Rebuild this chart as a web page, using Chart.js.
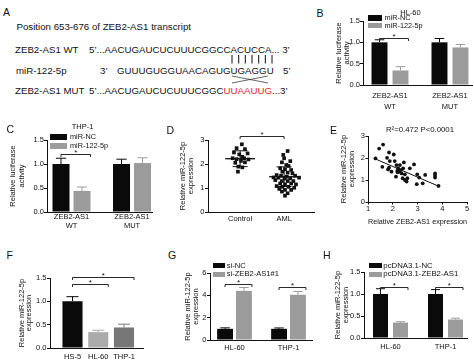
<!DOCTYPE html>
<html><head><meta charset="utf-8"><title>ZEB2-AS1 / miR-122-5p</title>
<script src="https://cdn.jsdelivr.net/npm/chart.js@4.4.1/dist/chart.umd.min.js"></script>
<style>
html,body{margin:0;padding:0;background:#fff;}
#root{position:relative;width:474px;height:362px;overflow:hidden;font-family:'Liberation Sans',Arial,Helvetica,sans-serif;color:#111;}
.t{position:absolute;white-space:nowrap;line-height:1;transform:translateY(-50%);}
.c{transform:translate(-50%,-50%);}
.sw{position:absolute;}
canvas{position:absolute;}
svg{position:absolute;left:0;top:0;}
</style></head><body><div id="root"></div>
<script>
// ---------------- Panel A (sequence alignment) ----------------
const aTitle = 'Position 653-676 of ZEB2-AS1 transcript';
const aRowLabels = ['ZEB2-AS1 WT', 'miR-122-5p', 'ZEB2-AS1 MUT'];
const aWT = '5\u2019...AACUGAUCUCUUUCGGCCACUCCA... 3\u2019';
const aMiR5 = '3\u2019';
const aMiR = 'GUUUGUGGUAACAGUGUGAGGU';
const aMiR3 = '5\u2019';
const aMutHead = '5\u2019...AACUGAUCUCUUUCGGC';
const aMutSite = 'UUAAUUG';
const aMutTail = '...3\u2019';

// ---------------- Panel B (HL-60 luciferase) ----------------
const bTitle = 'HL-60';
const bCategories = [['ZEB2-AS1', 'WT'], ['ZEB2-AS1', 'MUT']];
const bSeries = ['miR-NC', 'miR-122-5p'];
const bNC = [1.00, 1.00];
const bNCErr = [0.06, 0.09];
const bMiR = [0.34, 0.88];
const bMiRErr = [0.09, 0.07];
const bSig = [[0, 1.10]];            // [category index, bracket height]

// ---------------- Panel C (THP-1 luciferase) ----------------
const cTitle = 'THP-1';
const cCategories = [['ZEB2-AS1', 'WT'], ['ZEB2-AS1', 'MUT']];
const cSeries = ['miR-NC', 'miR-122-5p'];
const cNC = [1.00, 1.00];
const cNCErr = [0.12, 0.10];
const cMiR = [0.44, 1.02];
const cMiRErr = [0.08, 0.11];
const cSig = [[0, 1.20]];

// ---------------- Panel D (dot plot) ----------------
const dGroups = ['Control', 'AML'];
const dControlX = [1.04, 0.92, 1.11, 0.86, 0.98, 1.17, 1.05, 0.83, 0.92, 1.09, 1.19, 1.02, 0.89, 1.11, 0.96, 1.05, 0.95];
const dControlY = [2.82, 2.66, 2.62, 2.48, 2.40, 2.44, 2.30, 2.24, 2.20, 2.24, 2.19, 2.13, 2.05, 2.07, 1.89, 1.86, 1.68];
const dAMLX = [2.08, 1.98, 2.00, 2.14, 1.95, 2.05, 2.10, 1.91, 2.02, 2.16, 1.96, 2.08, 2.19, 1.83, 1.93, 2.06, 2.25, 1.76, 1.87, 2.01,
               2.14, 2.34, 1.80, 1.95, 2.08, 2.21, 1.91, 2.02, 2.16, 2.27, 1.83, 1.96, 2.10, 2.23, 1.89, 2.02, 2.16, 1.95, 2.08, 2.02];
const dAMLY = [2.54, 2.38, 2.24, 2.12, 2.07, 1.96, 1.92, 1.82, 1.78, 1.75, 1.68, 1.64, 1.61, 1.54, 1.51, 1.47, 1.51, 1.44, 1.43, 1.40,
               1.40, 1.43, 1.33, 1.29, 1.29, 1.29, 1.19, 1.15, 1.19, 1.15, 1.08, 1.05, 1.05, 1.01, 0.96, 0.92, 0.92, 0.85, 0.78, 0.68];
const dMean = [2.22, 1.47];
const dSD = [0.33, 0.41];
const dSig = [[1, 2, 3.18]];

// ---------------- Panel E (correlation) ----------------
const eX = [1.30, 1.45, 1.61, 1.58, 1.77, 1.85, 1.88, 1.85, 1.81, 2.04, 2.08, 1.95, 2.13, 2.22, 2.18, 2.26, 2.32, 2.36, 2.29, 2.42,
            2.45, 2.49, 2.40, 2.49, 2.59, 2.56, 2.69, 2.86, 2.99, 3.07, 2.97, 3.21, 3.31, 3.71, 3.71, 3.71, 3.85, 2.15, 2.20];
const eY = [1.98, 2.43, 2.61, 1.60, 2.01, 2.25, 1.86, 1.56, 1.48, 2.16, 1.86, 1.38, 1.15, 1.53, 1.41, 1.38, 1.45, 1.30, 1.68, 1.53,
            1.80, 1.26, 1.08, 1.00, 1.08, 0.93, 1.53, 1.71, 1.26, 1.11, 0.81, 0.85, 1.23, 1.30, 1.20, 1.11, 0.73, 1.68, 1.35];
const eFitX = [1.27, 3.85];
const eFitY = [1.97, 0.72];
const eStats = 'R\u00b2=0.472 P<0.0001';

// ---------------- Panel F ----------------
const fCategories = ['HS-5', 'HL-60', 'THP-1'];
const fValues = [1.00, 0.34, 0.44];
const fErr = [0.10, 0.04, 0.07];
const fSig = [[0, 1, 1.38], [0, 2, 1.53]];

// ---------------- Panel G ----------------
const gCategories = ['HL-60', 'THP-1'];
const gSeries = ['si-NC', 'si-ZEB2-AS1#1'];
const gNC = [1.00, 1.00];
const gNCErr = [0.09, 0.08];
const gSi = [4.40, 4.05];
const gSiErr = [0.30, 0.30];
const gSig = [[0, 5.00], [1, 4.75]];

// ---------------- Panel H ----------------
const hCategories = ['HL-60', 'THP-1'];
const hSeries = ['pcDNA3.1-NC', 'pcDNA3.1-ZEB2-AS1'];
const hNC = [1.00, 1.00];
const hNCErr = [0.12, 0.10];
const hOE = [0.35, 0.42];
const hOEErr = [0.02, 0.03];
const hSig = [[0, 1.15], [1, 1.15]];

// ================= rendering =================
const F = "'Liberation Sans', Arial, Helvetica, sans-serif";
const INK = '#111111';
const BLACK = '#0a0a0a';
const GRAY = '#9b9b9b';
const LIGHT = '#ababab';
const DARK = '#777777';
const root = document.getElementById('root');

Chart.defaults.font.family = F;
Chart.defaults.color = INK;
Chart.defaults.animation = false;

function addText(str, x, y, size, opts) {
  opts = opts || {};
  const d = document.createElement('div');
  d.className = 't' + (opts.center ? ' c' : '');
  d.style.left = x + 'px';
  d.style.top = y + 'px';
  d.style.fontSize = size + 'px';
  if (opts.color) d.style.color = opts.color;
  if (opts.parts) {
    opts.parts.forEach(p => { const s = document.createElement('span'); s.textContent = p[0]; if (p[1]) s.style.color = p[1]; d.appendChild(s); });
  } else d.textContent = str;
  root.appendChild(d);
  return d;
}
function addSwatch(x, y, w, h, color) {
  const s = document.createElement('div');
  s.className = 'sw';
  Object.assign(s.style, {left: x + 'px', top: y + 'px', width: w + 'px', height: h + 'px', background: color});
  root.appendChild(s);
}

// ---- Panel A ----
addText('A', 3, 11.7, 10.5);
addText(aTitle, 16.5, 27.3, 9.7);
addText(aRowLabels[0], 15, 49.5, 9.7);
addText(aWT, 89, 49.5, 9.7);
addText(aRowLabels[1], 16, 70.5, 9.7);
addText(aMiR5, 100, 70.5, 9.7);
addText(aMiR, 117, 70.5, 9.7);
addText(aMiR3, 283, 70.5, 9.7);
addText(aRowLabels[2], 15, 90.7, 9.7);
addText('', 89, 90.7, 9.7, {parts: [[aMutHead], [aMutSite, '#e2262c'], [aMutTail]]});
(function () {
  const ns = 'http://www.w3.org/2000/svg';
  const svg = document.createElementNS(ns, 'svg');
  svg.setAttribute('width', 474); svg.setAttribute('height', 362);
  const seg = (x1, y1, x2, y2, w) => {
    const l = document.createElementNS(ns, 'line');
    l.setAttribute('x1', x1); l.setAttribute('y1', y1); l.setAttribute('x2', x2); l.setAttribute('y2', y2);
    l.setAttribute('stroke', '#222'); l.setAttribute('stroke-width', w);
    svg.appendChild(l);
  };
  for (let k = 0; k < 7; k++) { const x = 232 + k * 6.67; seg(x, 55, x, 63.5, 1.1); }
  seg(232, 76, 268, 83, 0.7);
  seg(232, 83, 268, 76, 0.7);
  root.appendChild(svg);
})();

// ---- plugins ----
const errorBars = {
  id: 'errorBars',
  afterDatasetsDraw(chart) {
    const ctx = chart.ctx, ys = chart.scales.y;
    chart.data.datasets.forEach((ds, di) => {
      if (!ds.errors) return;
      const meta = chart.getDatasetMeta(di);
      meta.data.forEach((el, i) => {
        const v = ds.data[i].y, e = ds.errors[i];
        const top = ys.getPixelForValue(v + e);
        const col = Array.isArray(ds.backgroundColor) ? ds.backgroundColor[i] : ds.backgroundColor;
        const cap = el.width * 0.3;
        ctx.save();
        ctx.strokeStyle = col; ctx.lineWidth = 1;
        ctx.beginPath();
        ctx.moveTo(el.x, el.y); ctx.lineTo(el.x, top);
        ctx.moveTo(el.x - cap, top); ctx.lineTo(el.x + cap, top);
        ctx.stroke();
        ctx.restore();
      });
    });
  }
};
const sigPlugin = {
  id: 'sig',
  afterDraw(chart, args, opts) {
    const items = (opts && opts.items) || [];
    const ctx = chart.ctx, xs = chart.scales.x, ys = chart.scales.y;
    items.forEach(b => {
      let x1, x2;
      if (b.bars) {
        const e1 = chart.getDatasetMeta(b.bars[0][0]).data[b.bars[0][1]];
        const e2 = chart.getDatasetMeta(b.bars[1][0]).data[b.bars[1][1]];
        x1 = e1.x; x2 = e2.x + e2.width / 2;
      } else {
        x1 = xs.getPixelForValue(b.x1); x2 = xs.getPixelForValue(b.x2);
      }
      const y = Math.round(ys.getPixelForValue(b.y)) + 0.5;
      ctx.save();
      ctx.strokeStyle = INK; ctx.lineWidth = 0.9;
      ctx.beginPath();
      ctx.moveTo(x1, y + 2.5); ctx.lineTo(x1, y); ctx.lineTo(x2, y); ctx.lineTo(x2, y + 2.5);
      ctx.stroke();
      ctx.fillStyle = INK; ctx.font = '8px ' + F; ctx.textAlign = 'center'; ctx.textBaseline = 'alphabetic';
      ctx.fillText('*', (x1 + x2) / 2, y + 0.5);
      ctx.restore();
    });
  }
};
const meanSd = {
  id: 'meanSd',
  afterDatasetsDraw(chart, args, opts) {
    const items = (opts && opts.items) || [];
    const ctx = chart.ctx, xs = chart.scales.x, ys = chart.scales.y;
    items.forEach(m => {
      const cx = xs.getPixelForValue(m.x);
      const ym = ys.getPixelForValue(m.mean), yt = ys.getPixelForValue(m.mean + m.sd), yb = ys.getPixelForValue(m.mean - m.sd);
      const hw = xs.getPixelForValue(m.x + opts.meanHalf) - cx;
      const cw = xs.getPixelForValue(m.x + opts.capHalf) - cx;
      ctx.save(); ctx.strokeStyle = INK;
      ctx.lineWidth = 1.3;
      ctx.beginPath(); ctx.moveTo(cx - hw, ym); ctx.lineTo(cx + hw, ym); ctx.stroke();
      ctx.lineWidth = 1;
      ctx.beginPath();
      ctx.moveTo(cx, yt); ctx.lineTo(cx, yb);
      ctx.moveTo(cx - cw, yt); ctx.lineTo(cx + cw, yt);
      ctx.moveTo(cx - cw, yb); ctx.lineTo(cx + cw, yb);
      ctx.stroke(); ctx.restore();
    });
  }
};

// ---- chart helpers ----
function makeCanvas(box, pad) {
  const c = document.createElement('canvas');
  const left = box.l - pad.l, top = box.t - pad.t;
  const w = box.r - box.l + pad.l + pad.r, h = box.b - box.t + pad.t + pad.b;
  c.width = w; c.height = h;
  Object.assign(c.style, {left: left + 'px', top: top + 'px', width: w + 'px', height: h + 'px'});
  root.appendChild(c);
  return c;
}
function yAxisCfg(o, box, pad) {
  return {
    type: 'linear', min: o.min, max: o.max,
    ticks: {stepSize: o.step, callback: v => Number(v).toFixed(o.dec), font: {size: 7.5, family: F}, color: INK, padding: o.tickPad == null ? 0.5 : o.tickPad},
    grid: {display: true, drawOnChartArea: false, drawTicks: true, tickLength: o.tickLen || 3, color: INK, lineWidth: 1},
    border: {display: true, color: INK, width: 1},
    title: {display: true, text: o.title, color: INK,
      font: {size: 7.5, family: F, lineHeight: o.titleLH + 'px'},
      padding: {top: o.titleStart - (box.l - pad.l), bottom: 0}},
    afterFit(s) { s.width = pad.l; s.paddingTop = 0; s.paddingBottom = 0; }
  };
}
function xCatAxis(min, max, labels, pad, lh, tpad) {
  return {
    type: 'linear', min, max, offset: false,
    afterBuildTicks(s) { s.ticks = labels.map((_, i) => ({value: i + 1})); },
    ticks: {autoSkip: false, maxRotation: 0, minRotation: 0, callback: v => labels[Math.round(v) - 1],
      font: {size: 7.5, family: F, lineHeight: lh + 'px'}, color: INK, padding: tpad},
    grid: {display: false, drawTicks: false},
    border: {display: true, color: INK, width: 1},
    afterFit(s) { s.height = pad.b; s.paddingLeft = 0; s.paddingRight = 0; }
  };
}
function baseOptions(pad, scales, pluginOpts) {
  return {
    responsive: false, animation: false, devicePixelRatio: 1,
    layout: {padding: {left: 0, top: pad.t, right: pad.r, bottom: 0}},
    plugins: Object.assign({legend: {display: false}, tooltip: {enabled: false}}, pluginOpts || {}),
    scales
  };
}
function pts(xs, ys) { return xs.map((x, i) => ({x, y: ys[i]})); }
function barData(vals) { return vals.map((v, i) => ({x: i + 1, y: v})); }

function groupedBar(cfg) {
  const c = makeCanvas(cfg.box, cfg.pad);
  const datasets = cfg.series.map((s, k) => ({
    label: s.label, data: barData(s.values), errors: s.errors,
    backgroundColor: s.color, borderWidth: 0,
    categoryPercentage: cfg.catPct, barPercentage: cfg.barPct
  }));
  const sigItems = (cfg.sig || []).map(s => s.length === 2
    ? {bars: [[0, s[0]], [1, s[0]]], y: s[1]}
    : {bars: [[0, s[0]], [0, s[1]]], y: s[2]});
  new Chart(c, {
    type: 'bar',
    data: {datasets},
    options: baseOptions(cfg.pad, {
      x: xCatAxis(cfg.xr[0], cfg.xr[1], cfg.labels, cfg.pad, cfg.xlh, cfg.xpad),
      y: yAxisCfg(cfg.y, cfg.box, cfg.pad)
    }, {sig: {items: sigItems}}),
    plugins: [errorBars, sigPlugin]
  });
}

// ---- Panel B ----
groupedBar({
  box: {l: 363, r: 472, t: 21, b: 85}, pad: {l: 29, r: 2, t: 6, b: 27},
  xr: [0.55, 2.367], labels: bCategories, xlh: 11.5, xpad: 4.75, catPct: 0.7, barPct: 0.76,
  y: {min: 0, max: 1.5, step: 0.5, dec: 1, title: ['Relative luciferase', 'activity'], titleLH: 8, titleStart: 334.5, tickPad: 0},
  series: [{label: bSeries[0], values: bNC, errors: bNCErr, color: BLACK}, {label: bSeries[1], values: bMiR, errors: bMiRErr, color: GRAY}],
  sig: bSig
});
addText('B', 316.5, 13.3, 10.5);
addText(bTitle, 410.5, 13.3, 7.5, {center: true});
addSwatch(368, 15, 14, 5.7, BLACK); addText(bSeries[0], 384.5, 17.8, 7.3);
addSwatch(368, 22.7, 14, 5.7, GRAY); addText(bSeries[1], 384.5, 25.7, 7.3);

// ---- Panel C ----
groupedBar({
  box: {l: 47, r: 152, t: 140, b: 212}, pad: {l: 38, r: 6, t: 6, b: 18},
  xr: [0.595, 2.33], labels: cCategories, xlh: 8.7, xpad: 0.4, catPct: 0.694, barPct: 0.81,
  y: {min: 0, max: 1.5, step: 0.5, dec: 1, title: ['Relative luciferase', 'activity'], titleLH: 8.4, titleStart: 9.1, tickPad: 0},
  series: [{label: cSeries[0], values: cNC, errors: cNCErr, color: BLACK}, {label: cSeries[1], values: cMiR, errors: cMiRErr, color: GRAY}],
  sig: cSig
});
addText('C', 6.5, 128.7, 10.5);
addText(cTitle, 82.5, 126.7, 7.5, {center: true});
addSwatch(50, 134, 16.7, 6, BLACK); addText(cSeries[0], 70, 137, 7.3);
addSwatch(50, 142.5, 16.7, 6, GRAY); addText(cSeries[1], 70, 145.8, 7.3);

// ---- Panel D ----
(function () {
  const box = {l: 208, r: 314, t: 140, b: 212}, pad = {l: 29, r: 4, t: 14, b: 14};
  const c = makeCanvas(box, pad);
  const xAx = xCatAxis(0.27, 0.27 + 106 / 44, dGroups, pad, 9, 2.5);
  new Chart(c, {
    type: 'scatter',
    data: {datasets: [
      {label: dGroups[0], data: pts(dControlX, dControlY), pointStyle: 'rect', pointRadius: 2.6, backgroundColor: INK, borderWidth: 0},
      {label: dGroups[1], data: pts(dAMLX, dAMLY), pointStyle: 'rect', pointRadius: 2.6, backgroundColor: INK, borderWidth: 0}
    ]},
    options: baseOptions(pad, {
      x: xAx,
      y: yAxisCfg({min: 0, max: 3, step: 1, dec: 0, title: ['Relative miR-122-5p', 'expression'], titleLH: 7.4, titleStart: 179.6, tickPad: 0.5}, box, pad)
    }, {
      meanSd: {items: dGroups.map((g, i) => ({x: i + 1, mean: dMean[i], sd: dSD[i]})), meanHalf: 0.34, capHalf: 0.17},
      sig: {items: dSig.map(s => ({x1: s[0], x2: s[1], y: s[2]}))}
    }),
    plugins: [meanSd, sigPlugin]
  });
  addText('D', 166.5, 130, 10.5);
})();

// ---- Panel E ----
(function () {
  const box = {l: 368, r: 467, t: 136, b: 202}, pad = {l: 28, r: 6, t: 6, b: 25};
  const c = makeCanvas(box, pad);
  new Chart(c, {
    type: 'scatter',
    data: {datasets: [
      {label: 'samples', data: pts(eX, eY), pointRadius: 1.9, backgroundColor: INK, borderWidth: 0},
      {label: 'fit', type: 'line', data: pts(eFitX, eFitY), borderColor: INK, borderWidth: 1, pointRadius: 0, fill: false}
    ]},
    options: baseOptions(pad, {
      x: {type: 'linear', min: 1, max: 5,
        ticks: {stepSize: 1, font: {size: 7.5, family: F, lineHeight: '9px'}, color: INK, padding: 0},
        grid: {display: true, drawOnChartArea: false, drawTicks: true, tickLength: 2.5, color: INK},
        border: {display: true, color: INK, width: 1},
        title: {display: true, text: 'Relative ZEB2-AS1 expression', color: INK, font: {size: 7.5, family: F, lineHeight: '9px'}, padding: {top: 0, bottom: 0.5}},
        afterFit(s) { s.height = pad.b; s.paddingLeft = 0; s.paddingRight = 0; }},
      y: yAxisCfg({min: 0, max: 3, step: 1, dec: 0, title: ['Relative miR-122-5p', 'expression'], titleLH: 8, titleStart: 340.3, tickPad: 0.5, tickLen: 2.5}, box, pad)
    })
  });
  addText('E', 330, 130, 10.5);
  addText(eStats, 420, 130, 7.8, {center: true});
})();

// ---- Panel F ----
(function () {
  const box = {l: 50, r: 143, t: 278, b: 348}, pad = {l: 33, r: 6, t: 12, b: 14};
  const c = makeCanvas(box, pad);
  new Chart(c, {
    type: 'bar',
    data: {datasets: [{label: 'miR-122-5p', data: barData(fValues), errors: fErr,
      backgroundColor: [BLACK, LIGHT, DARK], borderWidth: 0, categoryPercentage: 0.78, barPercentage: 1.0}]},
    options: baseOptions(pad, {
      x: xCatAxis(0.126, 3.738, fCategories, pad, 9, 4.2),
      y: yAxisCfg({min: 0, max: 1.5, step: 0.5, dec: 1, title: ['Relative miR-122-5p', 'expression'], titleLH: 7.6, titleStart: 17.9, tickPad: 0.5}, box, pad)
    }, {sig: {items: fSig.map(s => ({bars: [[0, s[0]], [0, s[1]]], y: s[2]}))}}),
    plugins: [errorBars, sigPlugin]
  });
  addText('F', 6.5, 255, 10.5);
})();

// ---- Panel G ----
groupedBar({
  box: {l: 210, r: 312, t: 273, b: 340}, pad: {l: 26, r: 4, t: 6, b: 20},
  xr: [0.546, 2.435], labels: gCategories, xlh: 9, xpad: 3.8, catPct: 0.70, barPct: 0.84,
  y: {min: 0, max: 6, step: 2, dec: 0, title: ['Relative miR-122-5p', 'expression'], titleLH: 7.7, titleStart: 184.45, tickPad: 0.5},
  series: [{label: gSeries[0], values: gNC, errors: gNCErr, color: BLACK}, {label: gSeries[1], values: gSi, errors: gSiErr, color: GRAY}],
  sig: gSig
});
addText('G', 168, 255, 10.5);
addSwatch(213.3, 263.3, 11.7, 5, BLACK); addText(gSeries[0], 226.7, 266, 7.6);
addSwatch(213.3, 271.7, 11.7, 5, GRAY); addText(gSeries[1], 226.7, 274, 7.6);

// ---- Panel H ----
groupedBar({
  box: {l: 364, r: 467, t: 272, b: 338}, pad: {l: 31, r: 6, t: 6, b: 20},
  xr: [0.518, 2.391], labels: hCategories, xlh: 9, xpad: 4.2, catPct: 0.727, barPct: 0.75,
  y: {min: 0, max: 1.5, step: 0.5, dec: 1, title: ['Relative miR-122-5p', 'expression'], titleLH: 8, titleStart: 333.7, tickPad: 0.5},
  series: [{label: hSeries[0], values: hNC, errors: hNCErr, color: BLACK}, {label: hSeries[1], values: hOE, errors: hOEErr, color: GRAY}],
  sig: hSig
});
addText('H', 323, 255, 10.5);
addSwatch(369.3, 263.3, 12.4, 5, BLACK); addText(hSeries[0], 383.3, 266, 7.8);
addSwatch(369.3, 271.7, 12.4, 5, GRAY); addText(hSeries[1], 383.3, 273.5, 7.8);
</script></body></html>
